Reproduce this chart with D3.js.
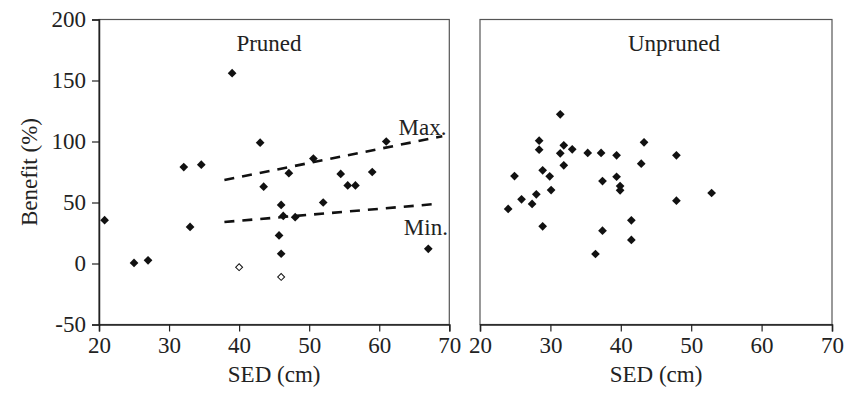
<!DOCTYPE html>
<html>
<head>
<meta charset="utf-8">
<script src="https://cdn.jsdelivr.net/npm/d3@7"></script>
<style>
  body { margin: 0; background: #fff; }
  text { font-family: "Liberation Serif", "Times New Roman", serif; fill: #222; }
</style>
</head>
<body>
<svg id="chart" width="856" height="394"></svg>
<script>
// pruned trees: filled markers
const prunedSED = [20.8, 25, 27, 32.1, 33, 34.6, 39, 43, 43.5, 61, 50.6, 47.1, 54.5, 59, 55.5, 56.6, 46, 52, 46.3, 48, 45.7, 46, 67];
const prunedBenefit = [35.5, 0.5, 2.6, 79, 30, 81, 156, 99, 63, 100, 86, 74, 73.4, 75, 64, 64, 48, 50, 39, 38, 23, 8, 12];
// pruned trees: open markers
const prunedOpenSED = [40, 46];
const prunedOpenBenefit = [-3, -11];
// max / min dashed lines (SED, benefit at ends)
const maxLine = [[37.9, 68.4], [69, 104.3]];
const minLine = [[37.9, 34], [68.5, 49]];

// unpruned trees
const unprunedSED = [31.4, 28.4, 28.4, 31.9, 33.1, 31.4, 35.3, 37.2, 39.4, 43.3, 47.9, 42.9, 31.9, 24.9, 28.9, 29.9,
    30.1, 37.4, 39.4, 39.9, 39.9, 28, 25.9, 27.4, 24, 52.9, 47.9, 28.9, 37.4, 41.5, 41.5, 36.4];
const unprunedBenefit = [122.3, 100.7, 93.3, 96.9, 93.6, 90.3, 90.6, 90.6, 88.7, 99.3, 88.7, 81.8, 80.5, 71.7, 76.4, 71.5,
    60.2, 67.6, 71.1, 63.5, 60, 56.7, 52.6, 48.8, 44.7, 57.8, 51.5, 30.5, 26.9, 35.4, 19.3, 7.8];

const xTicks = [20, 30, 40, 50, 60, 70];
const yTicks = [-50, 0, 50, 100, 150, 200];

const svg = d3.select("#chart");
const plotTop = 19.5, plotBottom = 324.5;
const fontSize = "23px";
const panels = [
    {left: 99, right: 449.3, title: "Pruned", titleX: 269, yLabels: true},
    {left: 480, right: 832, title: "Unpruned", titleX: 674, yLabels: false}
];

const y = d3.scaleLinear().domain([-50, 200]).range([plotBottom, plotTop]);
const diamond = d3.symbol().type(d3.symbolSquare).size(38);
const diamondOpen = d3.symbol().type(d3.symbolSquare).size(24);

panels.forEach(p => {
    p.x = d3.scaleLinear().domain([20, 70]).range([p.left, p.right]);
    const g = svg.append("g");

    //frame
    g.append("rect")
        .attr("x", p.left).attr("y", plotTop)
        .attr("width", p.right - p.left).attr("height", plotBottom - plotTop)
        .attr("fill", "none").attr("stroke", "#555").attr("stroke-width", 1.2);

    //x axis
    const xAxis = g.append("g")
        .attr("transform", `translate(0,${plotBottom})`)
        .call(d3.axisBottom(p.x).tickValues(xTicks).tickSize(7).tickFormat(d => String(d)));
    xAxis.select(".domain").attr("stroke", "#222").attr("stroke-width", 1.5);
    xAxis.selectAll(".tick line").attr("stroke", "#222").attr("stroke-width", 1.2);
    xAxis.selectAll(".tick text")
        .attr("y", 12).attr("dy", "0.71em")
        .style("font-size", fontSize).style("font-family", "Liberation Serif, serif").attr("fill", "#222");

    g.append("text")
        .attr("x", (p.left + p.right) / 2).attr("y", 382)
        .attr("text-anchor", "middle")
        .style("font-size", fontSize)
        .text("SED (cm)");

    g.append("text")
        .attr("x", p.titleX).attr("y", 51)
        .attr("text-anchor", "middle")
        .style("font-size", fontSize)
        .text(p.title);

    if (p.yLabels) {
        const yAxis = g.append("g")
            .attr("transform", `translate(${p.left},0)`)
            .call(d3.axisLeft(y).tickValues(yTicks).tickSize(7).tickPadding(6).tickFormat(d => String(d)));
        yAxis.select(".domain").attr("stroke", "#222").attr("stroke-width", 1.5);
        yAxis.selectAll(".tick line").attr("stroke", "#222").attr("stroke-width", 1.2);
        yAxis.selectAll(".tick text")
            .style("font-size", fontSize).style("font-family", "Liberation Serif, serif").attr("fill", "#222");
    }
});

svg.append("text")
    .attr("transform", `translate(29,${(plotTop + plotBottom) / 2}) rotate(-90)`)
    .attr("text-anchor", "middle")
    .attr("dy", "0.35em")
    .style("font-size", fontSize)
    .text("Benefit (%)");

//pruned panel marks
const px = panels[0].x;
const line = d3.line().x(d => px(d[0])).y(d => y(d[1]));
[maxLine, minLine].forEach(l => {
    svg.append("path")
        .attr("d", line(l))
        .attr("fill", "none")
        .attr("stroke", "#111")
        .attr("stroke-width", 2.6)
        .attr("stroke-dasharray", "10,8");
});

svg.append("text").attr("x", px(69.6)).attr("y", y(106) + 1)
    .attr("text-anchor", "end").style("font-size", fontSize).text("Max.");
svg.append("text").attr("x", px(69.8)).attr("y", y(24) + 1)
    .attr("text-anchor", "end").style("font-size", fontSize).text("Min.");

svg.append("g").selectAll("path")
    .data(d3.range(prunedSED.length))
    .join("path")
    .attr("d", diamond)
    .attr("transform", i => `translate(${px(prunedSED[i])},${y(prunedBenefit[i])}) rotate(45)`)
    .attr("fill", "#111");

svg.append("g").selectAll("path")
    .data(d3.range(prunedOpenSED.length))
    .join("path")
    .attr("d", diamondOpen)
    .attr("transform", i => `translate(${px(prunedOpenSED[i])},${y(prunedOpenBenefit[i])}) rotate(45)`)
    .attr("fill", "#fff")
    .attr("stroke", "#111")
    .attr("stroke-width", 1);

//unpruned panel marks
const ux = panels[1].x;
svg.append("g").selectAll("path")
    .data(d3.range(unprunedSED.length))
    .join("path")
    .attr("d", diamond)
    .attr("transform", i => `translate(${ux(unprunedSED[i])},${y(unprunedBenefit[i])}) rotate(45)`)
    .attr("fill", "#111");
</script>
</body>
</html>
